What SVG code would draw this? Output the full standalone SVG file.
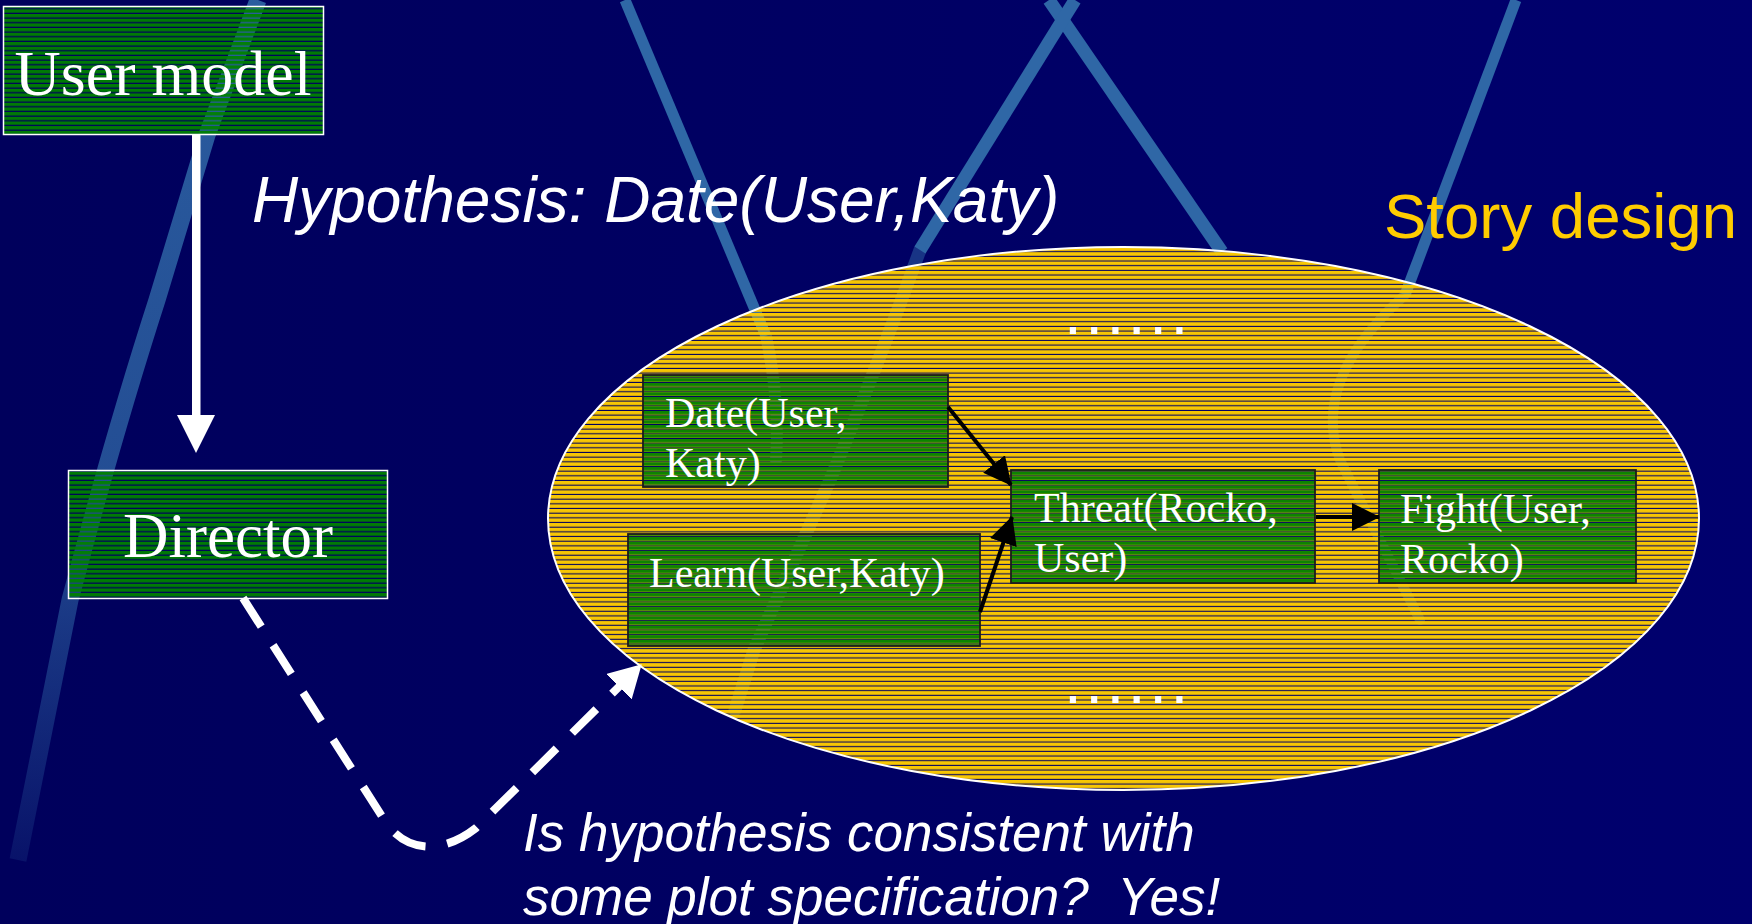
<svg xmlns="http://www.w3.org/2000/svg" width="1752" height="924" viewBox="0 0 1752 924">
  <defs>
    <style>
      .serif { font-family: "Liberation Serif", "Times New Roman", serif; fill: #ffffff; }
      .sans { font-family: "Liberation Sans", Arial, sans-serif; }
      .beam { fill: none; stroke: #2f67a6; stroke-linecap: butt; stroke-linejoin: round; }
      .beam-faint { fill: none; stroke: #2f67a6; stroke-linecap: round; stroke-linejoin: round; opacity: 0.5; }
      .outer-box { fill: url(#hatchGreen); stroke: #ffffff; stroke-width: 1.5; }
      .inner-box { fill: url(#hatchGreen); stroke: #1c1c1c; stroke-width: 1.8; }
      .link { fill: none; stroke: #000000; stroke-width: 4; marker-end: url(#headBlack); }
      .flow { fill: none; stroke: #ffffff; stroke-width: 8; stroke-dasharray: 34 22; marker-end: url(#headWhite); }
      .dots { font-family: "Liberation Sans", Arial, sans-serif; font-size: 64px; fill: #ffffff; letter-spacing: 3.5px; }
    </style>
    <!-- horizontal line hatching; the gaps let the backdrop show through -->
    <pattern id="hatchGreen" patternUnits="userSpaceOnUse" width="10" height="4.67">
      <rect width="10" height="3.4" fill="#008000" fill-opacity="0.95"/>
    </pattern>
    <pattern id="hatchGold" patternUnits="userSpaceOnUse" width="10" height="4.67">
      <rect width="10" height="3.6" fill="#ffcc00" fill-opacity="0.97"/>
    </pattern>
    <linearGradient id="bgShade" x1="0" y1="0" x2="1" y2="0">
      <stop offset="0" stop-color="#00005c"/>
      <stop offset="0.4" stop-color="#000062"/>
      <stop offset="0.7" stop-color="#000068"/>
      <stop offset="1" stop-color="#00006e"/>
    </linearGradient>
    <linearGradient id="leftBeamFade" gradientUnits="userSpaceOnUse" x1="0" y1="0" x2="0" y2="880">
      <stop offset="0" stop-color="#2f67a6" stop-opacity="0.9"/>
      <stop offset="0.55" stop-color="#2f67a6" stop-opacity="0.75"/>
      <stop offset="1" stop-color="#2f67a6" stop-opacity="0.15"/>
    </linearGradient>
    <marker id="headBlack" markerUnits="userSpaceOnUse" markerWidth="28" markerHeight="28" refX="27" refY="14" orient="auto">
      <path d="M0,0 L28,14 L0,28 Z" fill="#000000"/>
    </marker>
    <marker id="headWhite" markerUnits="userSpaceOnUse" markerWidth="32" markerHeight="36" refX="31" refY="18" orient="auto">
      <path d="M0,0 L32,18 L0,36 Z" fill="#ffffff"/>
    </marker>
  </defs>

  <!-- backdrop: navy field with light ribbons -->
  <g id="background">
    <rect width="1752" height="924" fill="url(#bgShade)"/>
    <path d="M258,0 L207,135 L157,300 Q115,430 70,600 L18,860" fill="none" stroke="url(#leftBeamFade)" stroke-width="17"/>
    <path class="beam" stroke-width="11" d="M625,0 L766,336"/>
    <path class="beam" stroke-width="13" d="M1049,0 L1222,252"/>
    <path class="beam" stroke-width="13" d="M1075,0 L920,250"/>
    <path class="beam" stroke-width="11" d="M1516,0 L1405,295"/>
    <!-- ribbons continuing behind the story design region -->
    <path class="beam-faint" stroke-width="12" d="M766,336 Q780,400 776,460"/>
    <path class="beam-faint" stroke-width="13" d="M920,250 Q880,360 830,480 L754,650 L735,710"/>
    <path class="beam-faint" stroke-width="10" d="M1405,295 Q1310,380 1340,460 L1420,620"/>
  </g>

  <!-- story design region -->
  <g id="story-design">
    <ellipse cx="1123.5" cy="518.5" rx="575.5" ry="271.5" fill="url(#hatchGold)" stroke="#ffffff" stroke-width="2"/>
    <text class="sans" x="1384" y="238" font-size="63.5" fill="#ffcc00">Story design</text>
  </g>

  <g id="node-user-model">
    <rect class="outer-box" x="3.5" y="6.5" width="320" height="128"/>
    <text class="serif" x="163" y="95" font-size="64" text-anchor="middle">User model</text>
  </g>

  <g id="node-director">
    <rect class="outer-box" x="68.5" y="470.5" width="319" height="128"/>
    <text class="serif" x="228" y="557" font-size="63" text-anchor="middle">Director</text>
  </g>

  <g id="node-date">
    <rect class="inner-box" x="643" y="375" width="305" height="112"/>
    <text class="serif" font-size="42"><tspan x="665" y="427">Date(User,</tspan><tspan x="665" y="477">Katy)</tspan></text>
  </g>

  <g id="node-learn">
    <rect class="inner-box" x="628" y="534" width="352" height="112"/>
    <text class="serif" x="649" y="587" font-size="42">Learn(User,Katy)</text>
  </g>

  <g id="node-threat">
    <rect class="inner-box" x="1011" y="470" width="304" height="113"/>
    <text class="serif" font-size="42"><tspan x="1034" y="522">Threat(Rocko,</tspan><tspan x="1034" y="572">User)</tspan></text>
  </g>

  <g id="node-fight">
    <rect class="inner-box" x="1379" y="470" width="257" height="113"/>
    <text class="serif" font-size="42"><tspan x="1400" y="523">Fight(User,</tspan><tspan x="1400" y="573">Rocko)</tspan></text>
  </g>

  <g id="connectors">
    <!-- user model to director -->
    <rect x="192" y="134" width="8.5" height="283" fill="#ffffff"/>
    <polygon points="177,415 215,415 196,453" fill="#ffffff"/>
    <!-- director consults the story design -->
    <path class="flow" d="M243,598 L383,818 C403,852 440,856 476,828 L641,665"/>
    <!-- plot links -->
    <path class="link" d="M948,407 L1011,485"/>
    <path class="link" d="M980,612 L1012,517"/>
    <path class="link" d="M1316,517 L1379,517"/>
  </g>

  <g id="labels">
    <text class="sans" x="252" y="222" font-size="64" font-style="italic" fill="#ffffff">Hypothesis: Date(User,Katy)</text>
    <text class="dots" x="1064" y="334">......</text>
    <text class="dots" x="1064" y="703">......</text>
    <text class="sans" font-size="53" font-style="italic" fill="#ffffff" xml:space="preserve"><tspan x="523" y="851">Is hypothesis consistent with</tspan><tspan x="523" y="915">some plot specification?  Yes!</tspan></text>
  </g>
</svg>
